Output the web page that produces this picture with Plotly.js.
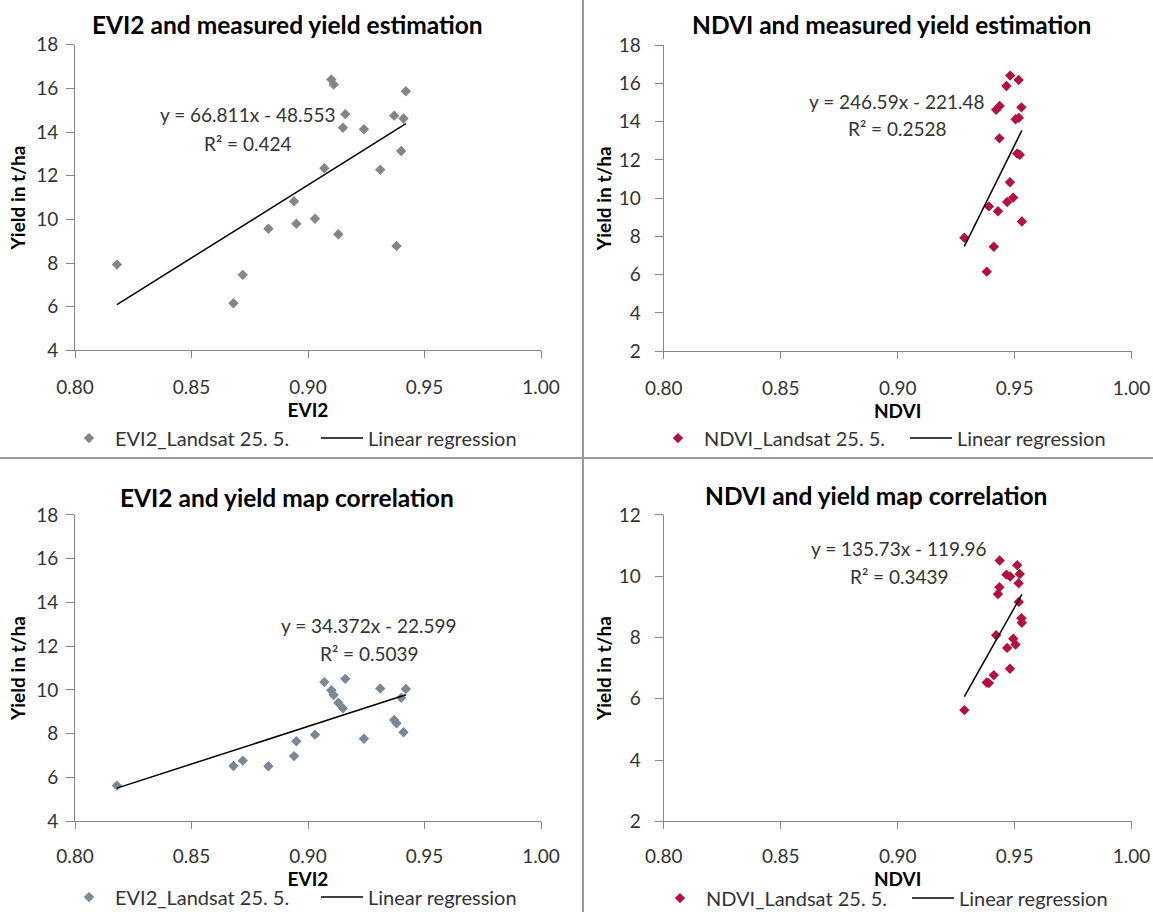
<!DOCTYPE html>
<html>
<head>
<meta charset="utf-8">
<script src="https://cdn.plot.ly/plotly-3.0.1.min.js"></script>
<style>
  html, body { margin: 0; padding: 0; background: #ffffff; }
  #chart { width: 1153px; height: 918px; }
</style>
</head>
<body>
<div id="chart"></div>
<script>
// Vegetation indices and yields for the 20 sampled fields (Landsat scene of 25 May)
const evi2 = [0.868, 0.872, 0.818, 0.938, 0.913, 0.883, 0.895, 0.903, 0.894, 0.931,
              0.907, 0.940, 0.924, 0.915, 0.941, 0.937, 0.916, 0.942, 0.911, 0.910];
const ndvi = [0.9381, 0.9411, 0.9285, 0.9531, 0.9429, 0.9390, 0.9468, 0.9494, 0.9480, 0.9522,
              0.9511, 0.9435, 0.9504, 0.9518, 0.9421, 0.9529, 0.9436, 0.9465, 0.9517, 0.9481];
const yieldMeasured = [6.16, 7.46, 7.93, 8.78, 9.32, 9.57, 9.80, 10.03, 10.83, 12.27,
                       12.34, 13.13, 14.13, 14.20, 14.62, 14.75, 14.82, 15.87, 16.18, 16.41];
const yieldMap = [6.53, 6.77, 5.63, 8.48, 9.42, 6.51, 7.66, 7.96, 6.98, 10.07,
                  10.36, 9.64, 7.77, 9.16, 8.07, 8.63, 10.51, 10.05, 9.77, 9.99];

// Linear regression results, one per panel
const fitSlope = [66.811, 246.59, 34.372, 135.73];
const fitIntercept = [-48.553, -221.48, -22.599, -119.96];
const fitR2 = ['0.424', '0.2528', '0.5039', '0.3439'];

const panelTitles = ['EVI2 and measured yield estimation', 'NDVI and measured yield estimation',
                     'EVI2 and yield map correlation', 'NDVI and yield map correlation'];
const seriesNames = ['EVI2_Landsat 25. 5.', 'NDVI_Landsat 25. 5.',
                     'EVI2_Landsat 25. 5.', 'NDVI_Landsat 25. 5.'];
const xTitles = ['EVI2', 'NDVI', 'EVI2', 'NDVI'];
const xTicks = [0.80, 0.85, 0.90, 0.95, 1.00];
const yRanges = [[4, 18], [2, 18], [4, 18], [2, 12]];

const W = 1153, H = 918;
const fx = v => v / W;
const fy = v => 1 - v / H;

const FONT = 'Lato, "Open Sans", sans-serif';
const GREY_AXIS = '#868686';
const TEXT = '#333333';

const xData = [evi2, ndvi, evi2, ndvi];
const yData = [yieldMeasured, yieldMeasured, yieldMap, yieldMap];
const markerColor = ['#858585', '#b3103e', '#7b8795', '#b3103e'];

// plot-area boxes in pixels: [left, right, top, bottom]
const boxes = [
  [75, 541, 45, 352.7],
  [663.7, 1131.6, 45.5, 353.5],
  [75, 541, 518.3, 826.7],
  [663.7, 1131.6, 518.3, 826.7]
];
// tick-label and title offsets of the axes
const yLabelGap = [4, 10, 4, 10];
const yTitleGap = [5, 2, 5, 2];
const xLabelGap = [13, 13, 11, 11];

const traces = [];
const layout = {
  width: W, height: H,
  margin: {l: 0, r: 0, t: 0, b: 0},
  paper_bgcolor: '#ffffff',
  plot_bgcolor: '#ffffff',
  font: {family: FONT, size: 19, color: TEXT},
  showlegend: true,
  annotations: [],
  shapes: []
};

const legendPos = [[63, 441], [652, 441], [63, 903], [654, 904]];
const titlePos = [[287, 25], [891, 25], [287, 501], [876, 499]];
const eqPos = [[248, 115, 144], [897, 102, 129], [369, 630, 658], [899, 552, 580]];

for (let i = 0; i < 4; i++) {
  const n = i === 0 ? '' : String(i + 1);
  const xa = 'x' + n, ya = 'y' + n;
  const lg = 'legend' + n;
  const xs = xData[i], ys = yData[i];

  traces.push({
    type: 'scatter', mode: 'markers',
    x: xs, y: ys, xaxis: xa, yaxis: ya,
    name: seriesNames[i], legend: lg, legendwidth: 196,
    marker: {symbol: 'diamond', size: 8, color: markerColor[i]},
    hoverinfo: 'x+y'
  });

  const xMin = Math.min(...xs), xMax = Math.max(...xs);
  traces.push({
    type: 'scatter', mode: 'lines',
    x: [xMin, xMax],
    y: [fitSlope[i] * xMin + fitIntercept[i], fitSlope[i] * xMax + fitIntercept[i]],
    xaxis: xa, yaxis: ya,
    name: 'Linear regression', legend: lg,
    line: {color: '#000000', width: 1.5},
    hoverinfo: 'skip'
  });

  const b = boxes[i];
  layout['xaxis' + n] = {
    domain: [fx(b[0]), fx(b[1])], anchor: ya,
    range: [0.8, 1.0], tickvals: xTicks, tickformat: '.2f',
    ticks: 'outside', ticklen: 7, tickcolor: GREY_AXIS, tickwidth: 1,
    showline: true, linecolor: GREY_AXIS, linewidth: 1,
    showgrid: false, zeroline: false,
    tickfont: {family: FONT, size: 19, color: TEXT},
    ticklabelstandoff: xLabelGap[i],
    title: {text: xTitles[i], font: {family: FONT, size: 19, color: '#000000', weight: 'bold'}, standoff: 2},
    fixedrange: true
  };
  layout['yaxis' + n] = {
    domain: [fy(b[3]), fy(b[2])], anchor: xa,
    range: yRanges[i], dtick: 2,
    ticks: 'outside', ticklen: 8, tickcolor: GREY_AXIS, tickwidth: 1,
    showline: true, linecolor: GREY_AXIS, linewidth: 1,
    showgrid: false, zeroline: false,
    tickfont: {family: FONT, size: 19, color: TEXT},
    ticklabelstandoff: yLabelGap[i],
    title: {text: 'Yield in t/ha', font: {family: FONT, size: 19, color: '#000000', weight: 'bold'}, standoff: yTitleGap[i]},
    fixedrange: true
  };

  layout[lg] = {
    orientation: 'h',
    x: fx(legendPos[i][0]), xanchor: 'left',
    y: fy(legendPos[i][1]), yanchor: 'middle',
    font: {family: FONT, size: 20, color: TEXT},
    bgcolor: 'rgba(0,0,0,0)', borderwidth: 0,
    itemwidth: 42
  };

  layout.annotations.push({
    xref: 'paper', yref: 'paper',
    x: fx(titlePos[i][0]), y: fy(titlePos[i][1]),
    xanchor: 'center', yanchor: 'middle', showarrow: false,
    text: '<b>' + panelTitles[i] + '</b>',
    font: {family: FONT, size: 24.5, color: '#000000'}
  });
  layout.annotations.push({
    xref: 'paper', yref: 'paper',
    x: fx(eqPos[i][0]), y: fy(eqPos[i][1]),
    xanchor: 'center', yanchor: 'middle', showarrow: false,
    text: 'y = ' + fitSlope[i] + 'x - ' + Math.abs(fitIntercept[i]),
    font: {family: FONT, size: 19, color: TEXT}
  });
  layout.annotations.push({
    xref: 'paper', yref: 'paper',
    x: fx(eqPos[i][0]), y: fy(eqPos[i][2]),
    xanchor: 'center', yanchor: 'middle', showarrow: false,
    text: 'R² = ' + fitR2[i],
    font: {family: FONT, size: 19, color: TEXT}
  });
}

// panel separators
layout.shapes.push({
  type: 'line', xref: 'paper', yref: 'paper',
  x0: fx(583), x1: fx(583), y0: 0, y1: 1,
  line: {color: '#9a9a9a', width: 2}
});
layout.shapes.push({
  type: 'line', xref: 'paper', yref: 'paper',
  x0: 0, x1: 1, y0: fy(461), y1: fy(461),
  line: {color: '#9a9a9a', width: 2}
});

Plotly.newPlot('chart', traces, layout, {displayModeBar: false, responsive: false});
</script>
</body>
</html>
